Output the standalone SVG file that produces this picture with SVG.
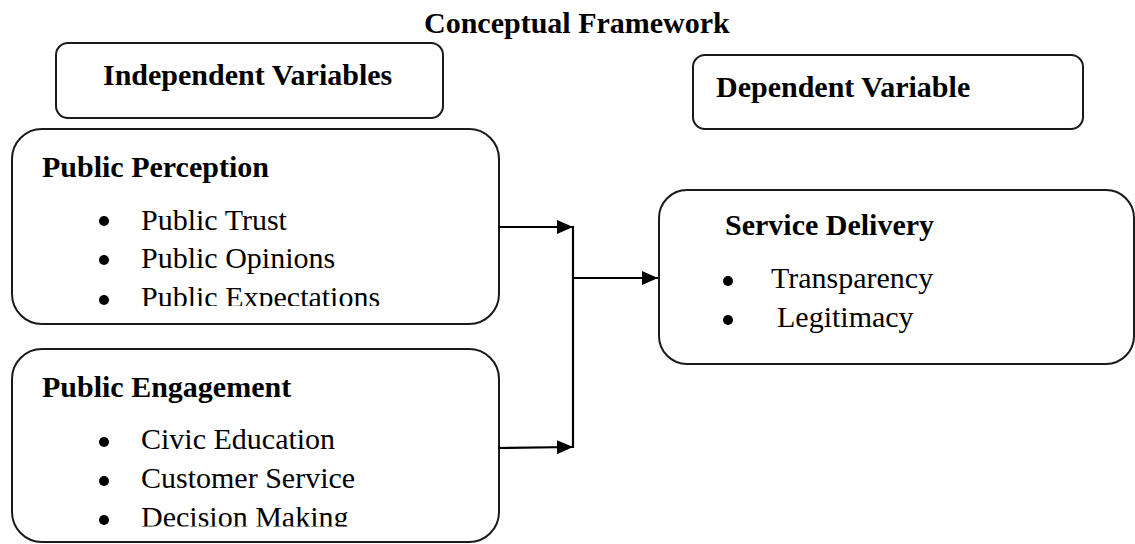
<svg xmlns="http://www.w3.org/2000/svg" width="1135" height="544" viewBox="0 0 1135 544">
<style>
.box{fill:#fff;stroke:#1a1a1a;stroke-width:2}
.t{font-family:"Liberation Serif","Times New Roman",serif;font-size:30px;fill:#000}
.b{font-weight:bold}
.dot{fill:#000}
.con{stroke:#000;stroke-width:2.2;fill:none}
</style>
<defs>
<marker id="ah" viewBox="0 0 16 14" refX="16" refY="7" markerWidth="16" markerHeight="14" markerUnits="userSpaceOnUse" orient="auto">
<path d="M0,0 L16,7 L0,14 Z" fill="#000"/>
</marker>
<clipPath id="c1"><rect x="0" y="0" width="1135" height="306"/></clipPath>
<clipPath id="c2"><rect x="0" y="0" width="1135" height="526.5"/></clipPath>
</defs>
<rect width="1135" height="544" fill="#fff"/>
<text id="title" class="t b" x="424" y="33">Conceptual Framework</text>
<g id="independent">
<rect class="box" x="56" y="43" width="387" height="75" rx="12"/>
<text class="t b" x="103" y="85">Independent Variables</text>
</g>
<g id="dependent">
<rect class="box" x="693" y="55" width="390" height="74" rx="12"/>
<text class="t b" x="716" y="97">Dependent Variable</text>
</g>
<g id="perception">
<rect class="box" x="12" y="129" width="487" height="195" rx="30"/>
<text class="t b" x="42" y="177">Public Perception</text>
<circle class="dot" cx="104" cy="221" r="5"/>
<text class="t" x="141" y="230">Public Trust</text>
<circle class="dot" cx="104" cy="260" r="5"/>
<text class="t" x="141" y="268">Public Opinions</text>
<g clip-path="url(#c1)">
<circle class="dot" cx="104" cy="300" r="5"/>
<text class="t" x="141" y="307">Public Expectations</text>
</g>
</g>
<g id="engagement">
<rect class="box" x="12" y="349" width="487" height="193" rx="30"/>
<text class="t b" x="42" y="397">Public Engagement</text>
<circle class="dot" cx="104" cy="442" r="5"/>
<text class="t" x="141" y="449">Civic Education</text>
<circle class="dot" cx="104" cy="481" r="5"/>
<text class="t" x="141" y="488">Customer Service</text>
<g clip-path="url(#c2)">
<circle class="dot" cx="104" cy="520" r="5"/>
<text class="t" x="141" y="527">Decision Making</text>
</g>
</g>
<g id="service">
<rect class="box" x="659" y="190" width="475" height="174" rx="28"/>
<text class="t b" x="725" y="235">Service Delivery</text>
<circle class="dot" cx="728" cy="281" r="5"/>
<text class="t" x="771" y="288" font-size="29">Transparency</text>
<circle class="dot" cx="728" cy="320" r="5"/>
<text class="t" x="777" y="327" font-size="29">Legitimacy</text>
</g>
<g id="connectors">
<line class="con" x1="498" y1="227" x2="573" y2="227" marker-end="url(#ah)"/>
<line class="con" x1="498" y1="448" x2="573" y2="447" marker-end="url(#ah)"/>
<line class="con" x1="573" y1="226" x2="573" y2="448"/>
<line class="con" x1="573" y1="278" x2="658" y2="278" marker-end="url(#ah)"/>
</g>
</svg>
